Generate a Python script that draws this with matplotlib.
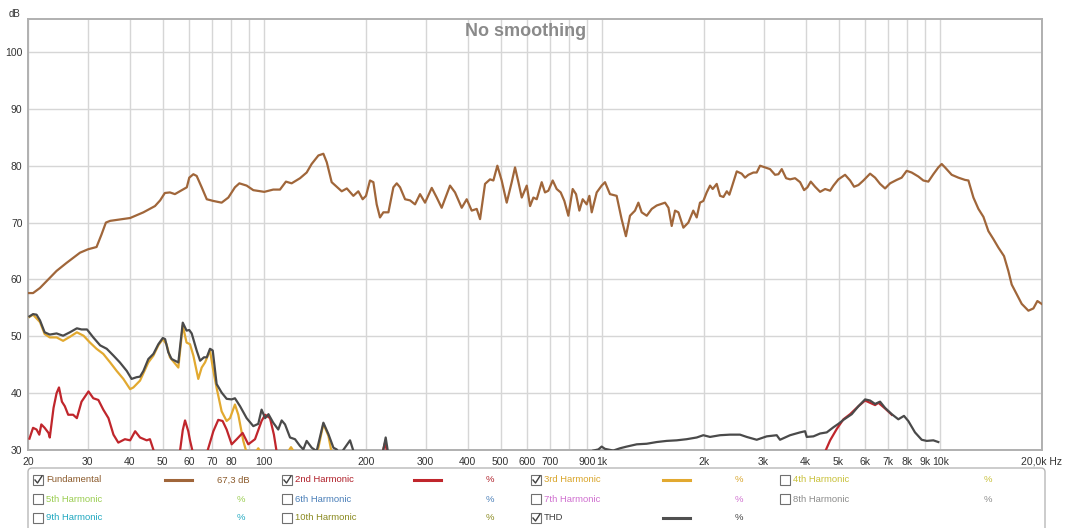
import numpy as np
import matplotlib
matplotlib.use('Agg')
import matplotlib.pyplot as plt
from matplotlib.patches import Rectangle, FancyBboxPatch
from matplotlib.lines import Line2D
from matplotlib.transforms import IdentityTransform
from matplotlib.ticker import FixedLocator, FixedFormatter, NullLocator

# ---------------- data ----------------
fund_f = [20, 20.7, 21.7, 22.7, 24.3, 26.0, 28.5, 30.1, 31.9, 33.0, 34.0, 35.0, 40.1, 43.9, 47.5, 49.2,
          50.8, 52.6, 54.4, 57.0, 59.0, 60.0, 61.7, 63.1, 65.3, 67.6, 70.7, 74.8, 78.3, 81.9, 84.4, 88.7,
          92.8, 100, 106.3, 111.3, 115.9, 120.5, 127.6, 133.5, 138.1, 144.6, 149.6, 153.1, 158.3, 169.5,
          175.5, 183.5, 189.8, 195.5, 200,
          205.5, 210.3, 215.1, 220.0, 225.1, 233.0, 241.0, 246.6, 252.2, 261.0, 270.0, 279.3, 289.0, 299.0,
          313, 323.8, 334.9, 354.5, 366.8, 383.9, 397.2, 410.9, 425.2, 435, 450, 465.6, 476.3, 489.4, 504,
          521.6, 539.7, 552, 564.9, 577.9, 597.9, 611.6, 625.6, 640, 662, 677, 692.6, 713.5, 733.2, 753.4,
          772.5, 793.8, 817.6, 836.4, 855.6, 875.3, 899.5, 916, 930.8, 962.9, 996, 1019, 1054, 1103, 1141,
          1175, 1208, 1250, 1279, 1308, 1354, 1401, 1449, 1483, 1534, 1570, 1605, 1642, 1680, 1738, 1798,
          1859, 1903,
          1946, 1991, 2037, 2084, 2122, 2181, 2231, 2283, 2336, 2377, 2416, 2500, 2585, 2645, 2706, 2800,
          2864, 2930, 3031, 3136, 3245, 3320, 3397, 3499, 3595, 3720, 3849, 3955, 4046, 4139, 4263, 4411,
          4564, 4722, 4830, 4997, 5229, 5411, 5560, 5727, 5925, 6200, 6415, 6637, 6867, 7105, 7431, 7689,
          7955, 8231, 8613, 8911, 9220, 9540, 9870, 10100, 10330, 10810, 11310, 11840, 12115, 12535, 12970,
          13420, 13880, 14360, 14860, 15440, 15900, 16270, 16830, 17420, 18230, 18860, 19380, 19950]
fund_db = [57.6, 57.6, 58.5, 59.7, 61.5, 62.9, 64.7, 65.3, 65.7, 67.9, 70.0, 70.3, 70.8, 71.8, 72.9, 73.9,
           75.2, 75.3, 75.0, 75.7, 76.2, 77.9, 78.5, 78.2, 76.2, 74.1, 73.8, 73.5, 74.4, 76.2, 76.9, 76.5,
           75.7, 75.4, 75.8, 75.8, 77.2, 76.9, 77.8, 78.8, 80.3, 81.8, 82.1, 80.6, 77.1, 75.5,
           76.0, 74.7, 75.5, 74.1, 74.7,
           77.4, 77.1, 73.2, 70.9, 71.8, 71.8, 76.2, 76.9, 76.2, 74.1, 73.9, 73.2, 75.0, 73.5,
           76.1, 74.4, 72.6, 76.5, 75.3, 72.6, 74.1, 72.1, 72.4, 70.6, 76.8, 77.6, 77.4, 80.0, 77.4,
           73.5, 77.1, 79.7, 77.1, 74.4, 76.5, 72.9, 74.4, 74.1, 77.1, 75.3, 75.6, 77.4, 75.9, 75.3,
           73.8, 71.2, 75.9, 75.0, 72.1, 74.1, 73.2, 74.7, 71.8, 75.3, 76.5, 77.1, 75.0, 74.7, 70.6,
           67.6, 71.2, 72.1, 73.5, 71.8, 71.2, 72.4, 73.0, 73.2, 73.5, 72.6, 69.4, 72.1, 71.8, 69.1, 70.0,
           72.1, 70.9,
           73.5, 73.8, 75.3, 76.5, 75.9, 76.8, 74.7, 74.5, 75.5, 74.9, 76.2, 79.0, 78.6, 77.9, 78.4, 78.8,
           78.8, 80.0, 79.7, 79.4, 78.4, 78.5, 79.4, 77.8, 77.6, 77.8, 77.1, 75.7, 76.2, 77.2, 76.3, 75.4,
           75.9, 75.6, 76.5, 77.6, 78.4, 77.4, 76.3, 76.6, 77.4, 78.6, 77.9, 76.8, 76.0, 76.9, 77.5, 77.9,
           79.1, 78.8, 78.1, 77.4, 77.2, 78.5, 79.7, 80.3, 79.7, 78.4, 77.9, 77.5, 77.4, 74.4, 72.4,
           71.0, 68.5, 67.1, 65.6, 64.1, 61.5, 59.1, 57.4, 55.7, 54.5, 54.9, 56.2, 55.7]

nan = float('nan')
h2_f = [20.2, 20.7, 21.2, 21.6, 21.9, 22.4, 23.0, 23.2, 23.8, 24.3, 24.7, 25.2, 25.7, 26.3, 27.2, 27.9,
        28.8, 30.2, 31.2, 32.3, 33.4, 34.6, 35.8, 37.0, 38.7, 40.1, 41.5, 42.9, 44.9, 45.9, 47.2,
        50.0,
        56.3, 57.4, 58.3, 59.6, 60.3, 61.4,
        64.0,
        67.9, 70.7, 73.1, 75.3, 77.4, 80.1, 82.9, 86.3, 89.7, 93.9, 98.2, 100.6, 104.0, 106.8, 108.8,
        150.0,
        224.1, 227.7, 231.3,
        1000.0,
        4564, 4722, 4941, 5170, 5411, 5727, 5993, 6200, 6415, 6562, 6867, 7187]
h2_db = [32.0, 33.9, 33.6, 32.7, 34.5, 33.9, 33.0, 32.2, 37.4, 40.0, 41.0, 38.5, 37.7, 36.2, 36.2, 35.6,
         38.5, 40.3, 39.1, 38.8, 37.1, 35.6, 32.7, 31.3, 31.9, 31.7, 33.3, 32.2, 31.7, 31.9, 29.7,
         nan,
         29.7, 33.5, 35.2, 33.3, 31.7, 29.7,
         nan,
         29.8, 33.3, 35.3, 35.1, 33.6, 31.0, 31.9, 33.0, 31.0, 31.9, 35.1, 36.2, 35.6, 32.7, 29.7,
         nan,
         29.7, 31.3, 29.5,
         nan,
         29.7, 31.7, 33.7, 35.4, 36.3, 37.7, 38.7, 38.3, 37.9, 38.3, 37.3, 36.2]

h3_f = [20.2, 20.7, 21.7, 22.4, 23.2, 24.3, 25.4, 26.6, 27.9, 29.2, 30.5, 31.9, 33.4, 35.0, 36.6, 38.3,
        40.1, 41.0, 42.9, 45.4, 47.0, 48.6, 50.1, 51.4, 52.6, 55.7, 57.4, 58.9, 60.3, 61.7, 63.8, 65.3,
        66.8, 69.1, 70.7, 72.3, 74.8, 77.4, 79.2, 81.9, 83.8, 86.7, 88.7,
        91.0,
        94.0, 96.0, 98.0,
        110.0,
        117.0, 120.0, 123.0,
        140.0,
        142.9, 144.6, 149.6, 154.8, 158.3]
h3_db = [53.4, 53.8, 52.5, 50.4, 49.8, 49.8, 49.2, 49.9, 50.7, 50.1, 48.9, 47.8, 46.9, 45.4, 43.9, 42.5,
         40.7, 41.0, 42.2, 45.4, 46.6, 48.4, 49.5, 48.6, 46.3, 44.5, 51.9, 48.9, 48.6, 46.6, 42.5, 44.5,
         45.4, 47.5, 43.9, 40.9, 36.8, 35.1, 35.6, 38.0, 36.2, 31.6, 29.5,
         nan,
         29.5, 30.3, 29.5,
         nan,
         29.5, 30.5, 29.5,
         nan,
         29.5, 30.4, 34.6, 32.5, 29.5]

thd_f = [20.2, 20.7, 21.2, 21.7, 22.4, 23.2, 24.3, 25.4, 26.6, 27.9, 28.8, 29.9, 31.2, 32.7, 34.2, 35.8,
         37.4, 39.2, 40.5, 41.9, 42.9, 43.9, 45.4, 47.0, 48.6, 50.1, 50.9, 52.0, 53.2, 55.7, 57.4, 58.9,
         60.0, 61.0, 63.1, 64.6, 66.3, 67.6, 69.1, 70.4, 72.3, 74.8, 77.4, 80.1, 81.9,
         84.8, 88.7, 92.8, 96.0, 98.2, 100.6, 102.9, 106.3, 110.0, 112.6, 115.2, 119.2, 123.3, 127.6,
         130.5, 133.5, 138.2, 142.9, 149.6, 154.8, 160.2, 163.8, 167.6, 179.4, 184.3,
         200.0,
         224.1, 228.7, 232.9,
         500.0,
         941, 974, 996, 1019, 1078, 1128, 1181, 1265, 1354, 1449, 1551, 1660, 1777, 1903, 1991, 2084,
         2231, 2388, 2556, 2675, 2864, 3066, 3282, 3357, 3595, 3849, 3982, 4027, 4215, 4411, 4616, 4830,
         4997, 5170, 5472, 5727, 5993, 6200, 6415, 6637, 6867, 7187, 7516, 7810, 8044, 8419, 8812, 9119,
         9540, 9870]
thd_db = [53.5, 53.9, 53.8, 52.8, 50.7, 50.3, 50.5, 50.1, 50.7, 51.4, 51.2, 51.2, 49.8, 48.4, 47.8, 46.6,
          45.4, 43.9, 42.5, 42.8, 42.9, 43.9, 46.0, 46.9, 48.6, 49.7, 49.5, 47.2, 46.0, 45.4, 52.4, 51.0,
          51.1, 50.5, 47.5, 45.7, 46.3, 46.3, 47.8, 47.5, 41.6, 40.1, 39.0, 38.9, 39.1,
          37.7, 35.6, 34.2, 34.6, 37.1, 35.6, 36.3, 34.8, 33.6, 35.2, 34.5, 32.2, 31.9, 30.7,
          30.1, 31.6, 30.4, 29.8, 34.8, 32.8, 30.4, 30.1, 29.2, 31.7, 29.5,
          nan,
          29.5, 32.2, 29.2,
          nan,
          29.9, 30.1, 30.6, 30.2, 29.9, 30.3, 30.6, 31.0, 31.1, 31.4, 31.6, 31.7, 31.9, 32.2, 32.6, 32.3,
          32.6, 32.7, 32.7, 32.3, 31.8, 32.4, 32.6, 31.8, 32.6, 33.1, 33.3, 32.3, 32.4, 32.9, 33.1, 34.0,
          34.6, 35.3, 36.3, 37.7, 38.9, 38.7, 38.1, 38.5, 37.4, 36.3, 35.4, 36.0, 35.1, 33.1, 31.8, 31.6,
          31.7, 31.4]

x_ticks = [20, 30, 40, 50, 60, 70, 80, 90, 100, 200, 300, 400, 500, 600, 700, 800, 900,
           1000, 2000, 3000, 4000, 5000, 6000, 7000, 8000, 9000, 10000, 20000]
x_labels = ['20', '30', '40', '50', '60', '70', '80', '', '100', '200', '300', '400', '500', '600',
            '700', '', '900', '1k', '2k', '3k', '4k', '5k', '6k', '7k', '8k', '9k', '10k', '']
x_end_label = '20,0k Hz'
y_ticks = [30, 40, 50, 60, 70, 80, 90, 100]

legend_rows = [
    [('Fundamental', '#8B5A2B', True, '#A0663A', '67,3 dB'),
     ('2nd Harmonic', '#B0202A', True, '#C0262C', '%'),
     ('3rd Harmonic', '#D9A52A', True, '#E2A930', '%'),
     ('4th Harmonic', '#C8C038', False, None, '%')],
    [('5th Harmonic', '#9ACD50', False, None, '%'),
     ('6th Harmonic', '#4A7FB8', False, None, '%'),
     ('7th Harmonic', '#D070D0', False, None, '%'),
     ('8th Harmonic', '#8C8C8C', False, None, '%')],
    [('9th Harmonic', '#20A8C0', False, None, '%'),
     ('10th Harmonic', '#8A8A20', False, None, '%'),
     ('THD', '#404040', True, '#505050', '%')],
]

for a, b in [(fund_f, fund_db), (h2_f, h2_db), (h3_f, h3_db), (thd_f, thd_db)]:
    assert len(a) == len(b), (len(a), len(b))

# ---------------- figure ----------------
plt.rcParams['font.family'] = ['Liberation Sans', 'DejaVu Sans']
W, H = 1067, 528
fig = plt.figure(figsize=(W / 100, H / 100), dpi=100)
fig.patch.set_facecolor('white')


def fx(px):
    return px / W


def fy(py):
    return 1 - py / H


ax = fig.add_axes([fx(28), fy(450), fx(1042) - fx(28), fy(19) - fy(450)])
ax.set_xscale('log')
ax.set_xlim(20, 20000)
ax.set_ylim(30, 105.8)
ax.xaxis.set_major_locator(FixedLocator(x_ticks))
ax.xaxis.set_major_formatter(FixedFormatter(x_labels))
ax.xaxis.set_minor_locator(NullLocator())
ax.set_yticks(y_ticks)
ax.grid(True, color='#d6d6d6', lw=1.0)
ax.set_axisbelow(True)
ax.tick_params(axis='both', length=0, labelsize=7.5, colors='#333333')
ax.tick_params(axis='x', pad=5)
ax.tick_params(axis='y', pad=4)
for s in ax.spines.values():
    s.set_color('#b0b0b0')
    s.set_linewidth(1.4)

ax.plot(fund_f, fund_db, color='#A0663A', lw=1.6, zorder=3)
ax.plot(h3_f, h3_db, color='#E2A930', lw=1.6, zorder=4)
ax.plot(h2_f, h2_db, color='#C0262C', lw=1.6, zorder=5)
ax.plot(thd_f, thd_db, color='#4A4A4A', lw=1.6, zorder=6)

fig.text(fx(526), fy(31), 'No smoothing', ha='center', va='center', fontsize=13,
         color='#8a8a8a', fontweight='bold')
fig.text(fx(9), fy(14), 'dB', ha='left', va='center', fontsize=7, color='#333333')
fig.text(fx(1062), fy(461.5), x_end_label, ha='right', va='center', fontsize=7.5, color='#333333')

# ---------------- legend panel ----------------
idt = IdentityTransform()
box = FancyBboxPatch((28, H - 532), 1017, 64, boxstyle='round,pad=0,rounding_size=4',
                     transform=idt, facecolor='white', edgecolor='#b8b8b8', lw=1.0)
fig.add_artist(box)

col_x = [33, 282, 531, 780]
row_y = [480, 499, 518]
for r, row in enumerate(legend_rows):
    yc = row_y[r]
    for c, (name, tcol, checked, lcol, val) in enumerate(row):
        x0 = col_x[c]
        cb = Rectangle((x0, H - yc - 5), 10, 10, transform=idt, facecolor='white',
                       edgecolor='#707070', lw=0.8)
        fig.add_artist(cb)
        if checked:
            fig.add_artist(Line2D([x0 + 2, x0 + 4.5, x0 + 9], [H - yc, H - yc - 3, H - yc + 4],
                                  transform=idt, color='#404040', lw=1.0))
        fig.text(fx(x0 + 13), fy(yc), name, ha='left', va='center', fontsize=6.8, color=tcol)
        if lcol is not None:
            fig.add_artist(Line2D([x0 + 132, x0 + 159], [H - yc, H - yc], transform=idt,
                                  color=lcol, lw=2.2))
        if val == '%':
            fig.text(fx(x0 + 208), fy(yc), val, ha='center', va='center', fontsize=6.8, color=tcol)
        else:
            fig.text(fx(x0 + 200), fy(yc), val, ha='center', va='center', fontsize=6.8, color=tcol)

fig.savefig('out.png', dpi=100, facecolor='white')
